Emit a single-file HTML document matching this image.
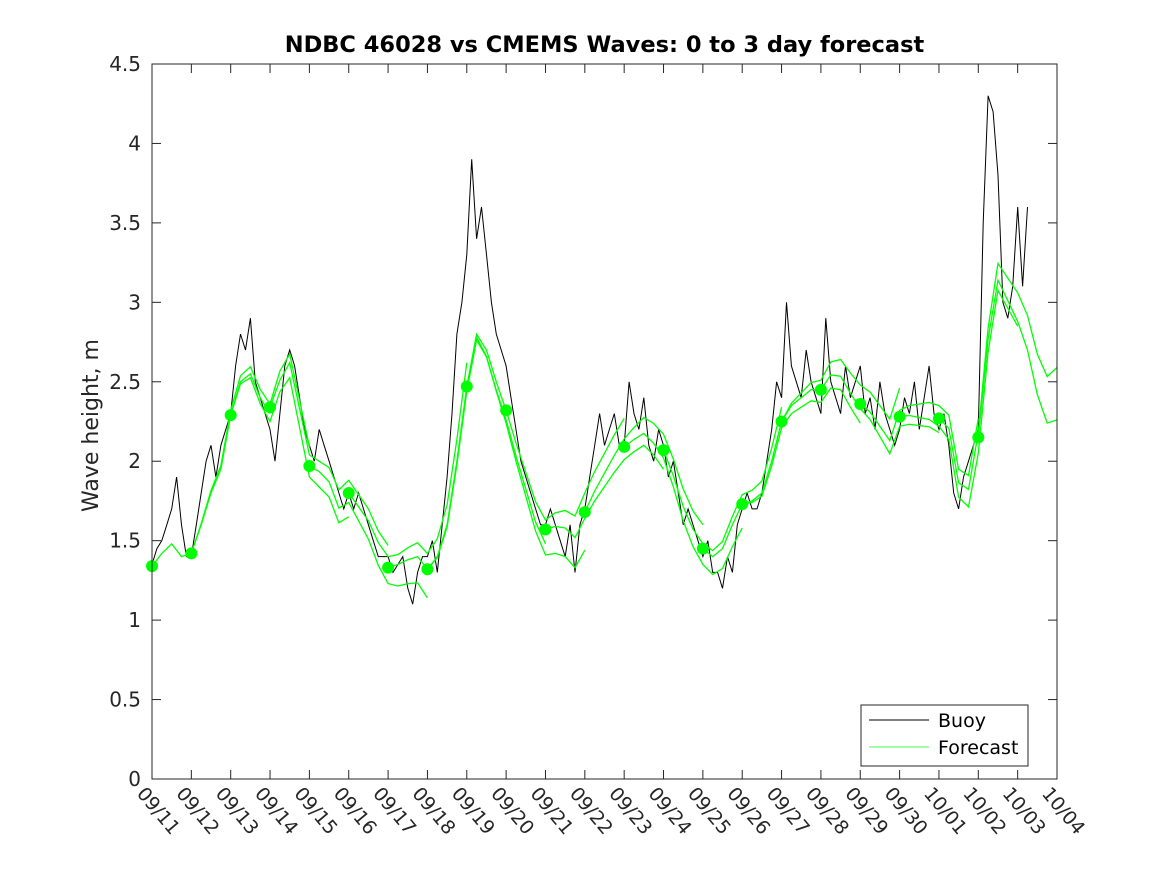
<!DOCTYPE html>
<html><head><meta charset="utf-8"><style>
body{margin:0;background:#fff}
svg{display:block;font-family:"DejaVu Sans","Liberation Sans",sans-serif}
</style></head><body>
<svg id="c" width="1167" height="875" viewBox="0 0 1167 875"></svg>
<script>
const dayLabels=["09/11","09/12","09/13","09/14","09/15","09/16","09/17","09/18","09/19","09/20","09/21","09/22","09/23","09/24","09/25","09/26","09/27","09/28","09/29","09/30","10/01","10/02","10/03","10/04"];
const yTicks=[0,0.5,1,1.5,2,2.5,3,3.5,4,4.5];
// buoy, 3-hourly from 09/11 00:00
const buoy=[1.35,1.45,1.5,1.6,1.7,1.9,1.6,1.4, 1.4,1.6,1.8,2.0,2.1,1.9,2.1,2.2, 2.3,2.6,2.8,2.7,2.9,2.5,2.4,2.3,
2.2,2.0,2.3,2.6,2.7,2.6,2.4,2.2, 2.1,2.0,2.2,2.1,2.0,1.9,1.8,1.7, 1.8,1.7,1.8,1.7,1.6,1.5,1.4,1.4,
1.4,1.3,1.35,1.4,1.2,1.1,1.3,1.4, 1.4,1.5,1.3,1.6,1.9,2.3,2.8,3.0, 3.3,3.9,3.4,3.6,3.3,3.0,2.8,2.7,
2.6,2.4,2.2,2.0,1.9,1.8,1.7,1.6, 1.6,1.7,1.6,1.5,1.4,1.6,1.3,1.6, 1.7,1.9,2.1,2.3,2.1,2.2,2.3,2.1,
2.1,2.5,2.3,2.2,2.4,2.1,2.0,2.2, 2.1,1.9,2.0,1.8,1.6,1.7,1.6,1.5, 1.4,1.5,1.3,1.3,1.2,1.4,1.3,1.6,
1.7,1.8,1.7,1.7,1.8,2.0,2.2,2.5, 2.4,3.0,2.6,2.5,2.4,2.7,2.5,2.4, 2.3,2.9,2.5,2.4,2.3,2.6,2.4,2.5,
2.6,2.3,2.4,2.2,2.5,2.3,2.2,2.1, 2.2,2.4,2.3,2.5,2.2,2.4,2.6,2.3, 2.2,2.3,2.1,1.8,1.7,1.9,2.0,2.1,
2.2,3.5,4.3,4.2,3.8,3.0,2.9,3.1, 3.6,3.1,3.6];
// forecast consensus, 6-hourly from 09/11 00:00
const forecast=[1.34,1.42,1.48,1.40, 1.42,1.6,1.8,1.95, 2.29,2.5,2.55,2.4, 2.3,2.5,2.6,2.3, 2.0,1.95,1.9,1.75,
1.8,1.7,1.6,1.45, 1.35,1.35,1.38,1.4, 1.32,1.4,1.6,2.0, 2.47,2.8,2.7,2.5, 2.32,2.1,1.9,1.7,
1.57,1.6,1.6,1.55, 1.68,1.8,1.9,2.0, 2.09,2.15,2.2,2.15, 2.07,1.9,1.7,1.55, 1.45,1.4,1.45,1.6,
1.73,1.75,1.8,2.0, 2.25,2.35,2.4,2.45, 2.45,2.55,2.55,2.45, 2.36,2.3,2.2,2.1, 2.28,2.3,2.3,2.3,
2.27,2.2,1.85,1.8, 2.15,2.8,3.2,3.1, 3.0,2.85,2.6,2.45, 2.5];
const runDots=[1.34,1.42,2.29,2.34,1.97,1.80,1.33,1.32,2.47,2.32,1.57,1.68,2.09,2.07,1.45,1.73,2.25,2.45,2.36,2.28,2.27,2.15];
const runBias=[0,0.03,-0.05,0.04,-0.06,0.05,0,-0.03,-0.08,0.06,-0.04,0.05,-0.05,0.03,0,-0.04,0.06,-0.03,0.04,-0.05,0.03,-0.12];

const svg=document.getElementById('c');const NS='http://www.w3.org/2000/svg';
const L=152,R=1057,T=64,B=779;
const X=d=>L+(R-L)*d/23, Y=v=>B-(B-T)*v/4.5;
function el(t,a,p){const e=document.createElementNS(NS,t);for(const k in a)e.setAttribute(k,a[k]);(p||svg).appendChild(e);return e;}
const bg=el('rect',{x:L,y:T,width:R-L,height:B-T,fill:'#fff'});


let d='';buoy.forEach((v,i)=>{d+=(i?'L':'M')+X(i/8).toFixed(1)+' '+Y(v).toFixed(1);});
const bl=el('path',{d:d,fill:'none',stroke:'#000','stroke-width':1});


runDots.forEach((v0,r)=>{
  let p='';const s=r*4,e=Math.min(s+12,forecast.length-1);
  for(let i=s;i<=e;i++){const v=(i===s?v0:forecast[i]+runBias[r]*(i-s)/4);p+=(i===s?'M':'L')+X(i/4).toFixed(1)+' '+Y(v).toFixed(1);}
  const ln=el('path',{d:p,fill:'none',stroke:'#00ff00','stroke-width':1.3});
  
  
});
runDots.forEach((v,r)=>{
  const c=el('circle',{cx:X(r),cy:Y(v),r:6,fill:'#00ff00'});
  
  
});
const bx=el('rect',{x:L,y:T,width:R-L,height:B-T,fill:'none',stroke:'#262626','stroke-width':1});


dayLabels.forEach((lab,i)=>{
  const x=X(i);
  el('line',{x1:x,y1:B,x2:x,y2:B-9,stroke:'#262626'});
  el('line',{x1:x,y1:T,x2:x,y2:T+9,stroke:'#262626'});
  const t=el('text',{x:0,y:0,'font-size':19,fill:'#262626',transform:`translate(${x-16},${B+15}) rotate(50)`});
  t.textContent=lab;
  
  
});
yTicks.forEach(v=>{
  const y=Y(v);
  el('line',{x1:L,y1:y,x2:L+9,y2:y,stroke:'#262626'});
  el('line',{x1:R,y1:y,x2:R-9,y2:y,stroke:'#262626'});
  const t=el('text',{x:L-11,y:y+7,'font-size':20,fill:'#262626','text-anchor':'end'});
  t.textContent=String(v);
  
  
});
const ti=el('text',{x:(L+R)/2+0,y:52,'font-size':22.5,'font-weight':'bold','text-anchor':'middle',fill:'#000'});
ti.textContent='NDBC 46028 vs CMEMS Waves: 0 to 3 day forecast';


const yl=el('text',{x:0,y:0,'font-size':22,'text-anchor':'middle',fill:'#262626',transform:`translate(98,${(T+B)/2+4}) rotate(-90)`});
yl.textContent='Wave height, m';


const lg=el('g',{});


el('rect',{x:861,y:705,width:167,height:61,fill:'#fff',stroke:'#262626'},lg);
el('line',{x1:869,y1:720,x2:929,y2:720,stroke:'#000'},lg);
el('line',{x1:869,y1:747,x2:929,y2:747,stroke:'#00ff00','stroke-width':0.7},lg);
const t1=el('text',{x:938,y:727,'font-size':19,fill:'#000'},lg);t1.textContent='Buoy';


const t2=el('text',{x:938,y:754,'font-size':19,fill:'#000'},lg);t2.textContent='Forecast';


</script>
</body></html>
